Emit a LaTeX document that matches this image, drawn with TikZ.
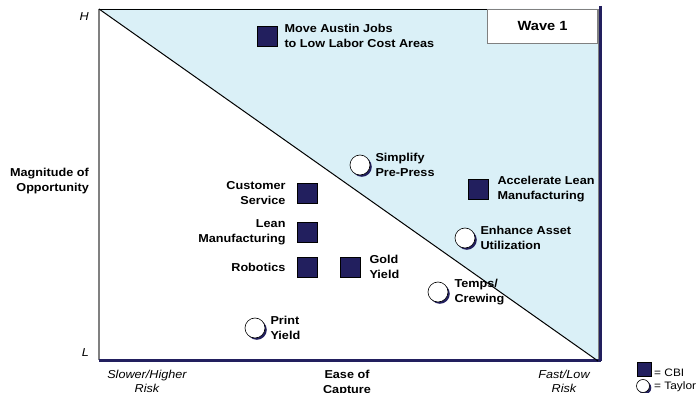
\documentclass[tikz,border=0pt]{standalone}
\usepackage{fontspec}
\setmainfont[FakeStretch=1.1]{Liberation Sans}
\usetikzlibrary{positioning,shadows}
\definecolor{navy1}{RGB}{34,31,94}
\definecolor{sky1}{RGB}{218,240,247}
\definecolor{grey1}{RGB}{128,128,128}

\begin{document}
\begin{tikzpicture}[x=1pt,y=-1pt,font=\fontsize{11.5}{15}\selectfont\bfseries,
                    node distance=6pt]
        \tikzstyle{cbi}=[rectangle,fill=navy1,draw=black,line width=0.6pt,minimum size=20pt,inner sep=0pt]
        \tikzstyle{taylor}=[circle,fill=white,draw=black,line width=0.6pt,minimum size=20pt,inner sep=0pt,
                            drop shadow={shadow xshift=1.8pt,shadow yshift=-1.8pt,fill=navy1,opacity=1}]
        \tikzstyle{lbl}=[align=left,inner sep=0pt]
        \tikzstyle{axis}=[font=\fontsize{11.5}{14}\selectfont\itshape,inner sep=0pt]
        \tikzstyle{key}=[inner sep=0pt,anchor=west,font=\fontsize{10.8}{12}\selectfont]

        \useasboundingbox (0,0) rectangle (697,393);

        \coordinate (hi) at (99,9);
        \coordinate (tr) at (598,9);
        \coordinate (lo) at (99,361);
        \coordinate (br) at (598,361);

        % shaded quick-win zone
        \fill[sky1] (hi) -- (tr) -- (br) -- cycle;
        \draw[navy1,line width=2.5pt] ([xshift=2.5pt,yshift=3pt]tr) -- ([xshift=2.5pt]br);
        \draw[grey1,line width=1pt] (tr) -- (br);
        \draw[black,line width=0.8pt] (hi) -- (tr);
        \draw[grey1,line width=1.5pt] (hi) -- ([yshift=1pt]lo);
        \draw[navy1,line width=3pt] ([yshift=1pt]lo) -- ([xshift=3pt,yshift=1pt]br);
        \draw[black,line width=1pt] (hi) -- (br);

        \node[draw=grey1,fill=white,line width=0.8pt,minimum width=110pt,minimum height=34pt,
              anchor=north east,font=\fontsize{13.3}{15}\selectfont\bfseries] (wave) at (tr) {Wave 1};

        % initiatives
        \node[cbi]    (austin) at (267,36)  {};
        \node[cbi]    (cust)   at (307,193) {};
        \node[cbi]    (lean)   at (307,232) {};
        \node[cbi]    (robot)  at (307,267) {};
        \node[cbi]    (gold)   at (350,267) {};
        \node[cbi]    (accel)  at (478,189) {};
        \node[taylor] (simp)   at (360,165) {};
        \node[taylor] (asset)  at (465,238) {};
        \node[taylor] (temps)  at (438,292) {};
        \node[taylor] (print)  at (255,328) {};

        \node[lbl,right=7pt of austin] (austinl) {Move Austin Jobs\\to Low Labor Cost Areas};
        \node[lbl,align=right,left=11pt of cust] (custl) {Customer\\Service};
        \node[lbl,align=right,left=11pt of lean] (leanl) {Lean\\Manufacturing};
        \node[lbl,align=right,left=11pt of robot] (robotl) {Robotics};
        \node[lbl,right=9pt of gold] (goldl) {Gold\\Yield};
        \node[lbl,right=9pt of accel] (accell) {Accelerate Lean\\Manufacturing};
        \node[lbl,right=5pt of simp] (simpl) {Simplify\\Pre-Press};
        \node[lbl,right=5pt of asset] (assetl) {Enhance Asset\\Utilization};
        \node[lbl,right=6pt of temps] (tempsl) {Temps/\\Crewing};
        \node[lbl,right=5pt of print] (printl) {Print\\Yield};

        % axes
        \node[axis,anchor=east] (H) at (89,17) {H};
        \node[axis,anchor=east] (L) at (89,353) {L};
        \node[lbl,align=right,anchor=east] (mag) at (89,181) {Magnitude of\\Opportunity};
        \node[axis,align=center,anchor=north] (slow) at (147,370) {Slower/Higher\\Risk};
        \node[lbl,align=center,anchor=north] (ease) at (347,370) {Ease of\\Capture};
        \node[axis,align=center,anchor=north] (fast) at (564,370) {Fast/Low\\Risk};

        % legend
        \node[cbi,minimum size=14pt] (kcbi) at (644,369.5) {};
        \node[taylor,minimum size=13pt] (ktay) at (643,386) {};
        \node[key] (kcbil) at (654,373) {= CBI};
        \node[key] (ktayl) at (654,387) {= Taylor};
    \end{tikzpicture}
\end{document}
